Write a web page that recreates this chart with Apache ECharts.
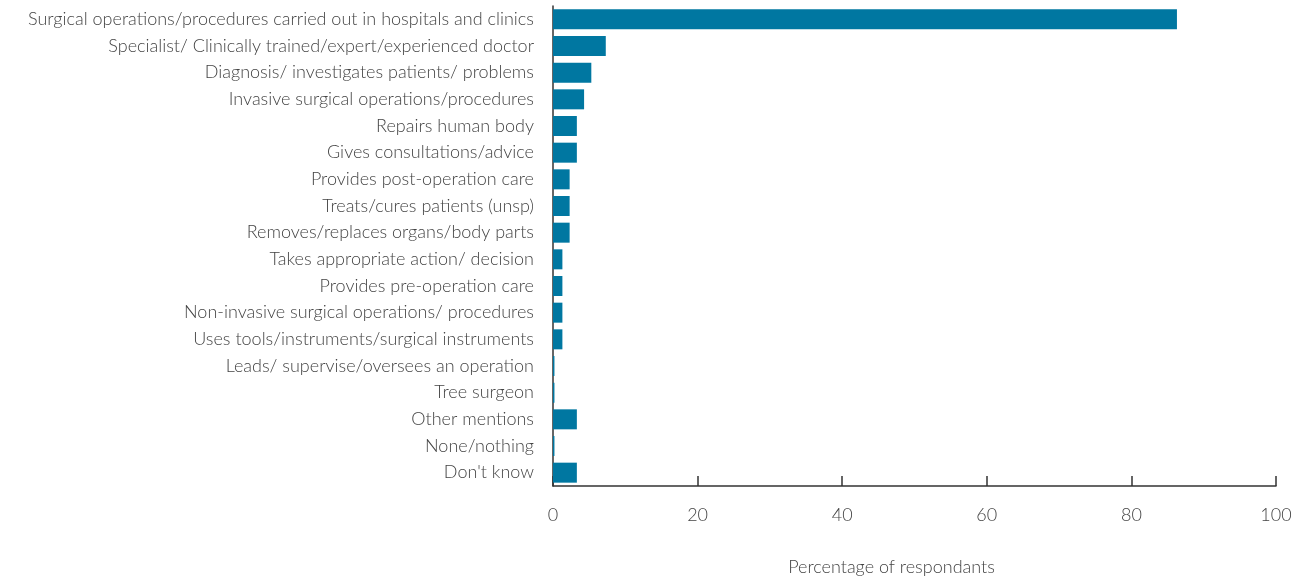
<!DOCTYPE html>
<html>
<head>
<meta charset="utf-8">
<script src="https://cdn.jsdelivr.net/npm/echarts@6/dist/echarts.min.js"></script>
<style>
  html, body { margin: 0; padding: 0; background: #fff; }
  #chart { width: 1302px; height: 581px; }
</style>
</head>
<body>
<div id="chart"></div>
<script>
// 类目（从上到下）
var categories = [
    'Surgical operations/procedures carried out in hospitals and clinics',
    'Specialist/ Clinically trained/expert/experienced doctor',
    'Diagnosis/ investigates patients/ problems',
    'Invasive surgical operations/procedures',
    'Repairs human body',
    'Gives consultations/advice',
    'Provides post-operation care',
    'Treats/cures patients (unsp)',
    'Removes/replaces organs/body parts',
    'Takes appropriate action/ decision',
    'Provides pre-operation care',
    'Non-invasive surgical operations/ procedures',
    'Uses tools/instruments/surgical instruments',
    'Leads/ supervise/oversees an operation',
    'Tree surgeon',
    'Other mentions',
    'None/nothing',
    "Don't know"
];
// 百分比
var values = [86.3, 7.3, 5.3, 4.3, 3.3, 3.3, 2.3, 2.3, 2.3, 1.3, 1.3, 1.3, 1.3, 0.2, 0.2, 3.3, 0.2, 3.3];
var xTicks = [0, 20, 40, 60, 80, 100];

var chart = echarts.init(document.getElementById('chart'));

var textColor = '#444';
var fontFamily = 'Lato, "Open Sans", sans-serif';

var option = {
    animation: false,
    grid: {
        left: 553,
        right: 26,
        top: 6,
        bottom: 93
    },
    xAxis: {
        type: 'value',
        min: xTicks[0],
        max: xTicks[xTicks.length - 1],
        interval: 20,
        name: 'Percentage of respondants',
        nameLocation: 'middle',
        nameGap: 72,
        nameTextStyle: { color: textColor, fontSize: 18, fontFamily: fontFamily, fontWeight: 300, padding: [0, 46, 0, 0] },
        axisLine: { show: true, lineStyle: { color: '#333', width: 1.5 } },
        axisTick: { show: true, inside: true, length: 10, lineStyle: { color: '#333', width: 1.5 } },
        axisLabel: { color: textColor, fontSize: 18, fontFamily: fontFamily, fontWeight: 300, margin: 20 },
        splitLine: { show: false }
    },
    yAxis: {
        type: 'category',
        inverse: true,
        data: categories,
        axisLine: { show: true, lineStyle: { color: '#333', width: 1.5 } },
        axisTick: { show: false },
        axisLabel: { color: textColor, fontSize: 18, fontFamily: fontFamily, fontWeight: 300, margin: 19 }
    },
    series: [{
        type: 'bar',
        data: values,
        barCategoryGap: '25%',
        itemStyle: { color: '#0077a1' }
    }]
};

chart.setOption(option);
</script>
</body>
</html>
